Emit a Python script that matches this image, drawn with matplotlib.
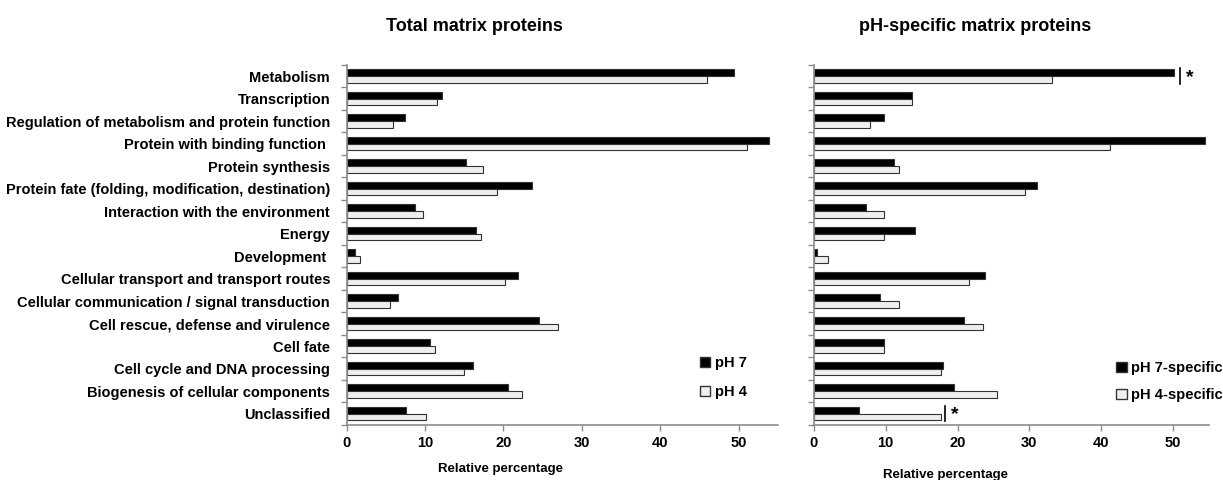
import matplotlib
matplotlib.use("Agg")
import matplotlib.pyplot as plt
import numpy as np
from matplotlib.patches import Patch

plt.rcParams['font.family'] = ['Liberation Sans', 'DejaVu Sans']
plt.rcParams['font.weight'] = 'bold'

# categories, top to bottom
categories = [
    "Metabolism",
    "Transcription",
    "Regulation of metabolism and protein function",
    "Protein with binding function ",
    "Protein synthesis",
    "Protein fate (folding, modification, destination)",
    "Interaction with the environment",
    "Energy",
    "Development ",
    "Cellular transport and transport routes",
    "Cellular communication / signal transduction",
    "Cell rescue, defense and virulence",
    "Cell fate",
    "Cell cycle and DNA processing",
    "Biogenesis of cellular components",
    "Unclassified",
]

# total matrix proteins
total_ph7 = [49.4, 12.2, 7.4, 53.9, 15.2, 23.6, 8.7, 16.5, 1.1, 21.8, 6.6, 24.5, 10.6, 16.1, 20.6, 7.5]
total_ph4 = [46.0, 11.5, 5.9, 51.1, 17.4, 19.2, 9.7, 17.1, 1.7, 20.2, 5.5, 26.9, 11.2, 15.0, 22.3, 10.1]

# pH-specific matrix proteins
spec_ph7 = [50.2, 13.6, 9.7, 54.5, 11.2, 31.1, 7.3, 14.1, 0.5, 23.8, 9.2, 20.9, 9.8, 18.0, 19.5, 6.3]
spec_ph4 = [33.2, 13.7, 7.8, 41.2, 11.8, 29.4, 9.7, 9.7, 1.9, 21.6, 11.8, 23.6, 9.8, 17.7, 25.5, 17.7]

xticks = [0, 10, 20, 30, 40, 50]

fig = plt.figure(figsize=(12.23, 4.80), dpi=100)
ax1 = fig.add_axes([0.2835, 0.115, 0.3525, 0.75])
ax2 = fig.add_axes([0.6655, 0.115, 0.323, 0.75])

n = len(categories)
pos = np.arange(n)[::-1]
h = 0.3
edge = "#333333"
spine = "#8c8c8c"


def draw(ax, a, b, labels):
    ax.barh(pos + h / 2, a, height=h, color="black", edgecolor=edge, linewidth=0.8)
    ax.barh(pos - h / 2, b, height=h, color="#efefef", edgecolor=edge, linewidth=0.8)
    ax.set_xlim(0, 55)
    ax.set_ylim(-0.5, n - 0.5)
    ax.set_xticks(xticks)
    ax.set_xticklabels([str(t) for t in xticks], fontsize=10.5, fontweight="bold")
    ax.set_yticks(pos)
    if labels:
        ax.set_yticklabels(categories, fontsize=10.5, fontweight="bold")
    else:
        ax.set_yticklabels([])
    ax.tick_params(axis="y", length=0, pad=12)
    ax.set_yticks(np.arange(n + 1) - 0.5, minor=True)
    ax.tick_params(axis="y", which="minor", length=4, color=spine, width=1)
    ax.tick_params(axis="x", length=4, color=spine, width=1, pad=4)
    for s in ["top", "right"]:
        ax.spines[s].set_visible(False)
    for s in ["left", "bottom"]:
        ax.spines[s].set_color(spine)
        ax.spines[s].set_linewidth(1.2)


draw(ax1, total_ph7, total_ph4, True)
draw(ax2, spec_ph7, spec_ph4, False)

# significance markers
i_met = categories.index("Metabolism")
i_unc = categories.index("Unclassified")
for i, xv in [(i_met, 51.0), (i_unc, 18.3)]:
    y = pos[i]
    ax2.plot([xv, xv], [y - h - 0.05, y + h + 0.05], color="black", lw=1.2)
    ax2.text(xv + 0.8, y - 0.05, "*", fontsize=14, fontweight="bold", va="center", ha="left")

fig.text(0.388, 0.945, "Total matrix proteins", fontsize=13, fontweight="bold", ha="center", va="center")
fig.text(0.797, 0.945, "pH-specific matrix proteins", fontsize=13, fontweight="bold", ha="center", va="center")
fig.text(0.409, 0.022, "Relative percentage", fontsize=9.5, fontweight="bold", ha="center", va="center")
fig.text(0.773, 0.010, "Relative percentage", fontsize=9.5, fontweight="bold", ha="center", va="center")

h1 = [Patch(facecolor="black", edgecolor=edge, label="pH 7"),
      Patch(facecolor="#efefef", edgecolor=edge, label="pH 4")]
ax1.legend(handles=h1, loc="lower right", bbox_to_anchor=(0.958, 0.036), frameon=False,
           prop={"weight": "bold", "size": 10.5}, handlelength=0.7, handleheight=0.7,
           handletextpad=0.3, labelspacing=1.0)
h2 = [Patch(facecolor="black", edgecolor=edge, label="pH 7-specific"),
      Patch(facecolor="#efefef", edgecolor=edge, label="pH 4-specific")]
ax2.legend(handles=h2, loc="lower right", bbox_to_anchor=(1.068, 0.027), frameon=False,
           prop={"weight": "bold", "size": 10.5}, handlelength=0.7, handleheight=0.7,
           handletextpad=0.3, labelspacing=0.9)

fig.savefig("out.png", dpi=100)
